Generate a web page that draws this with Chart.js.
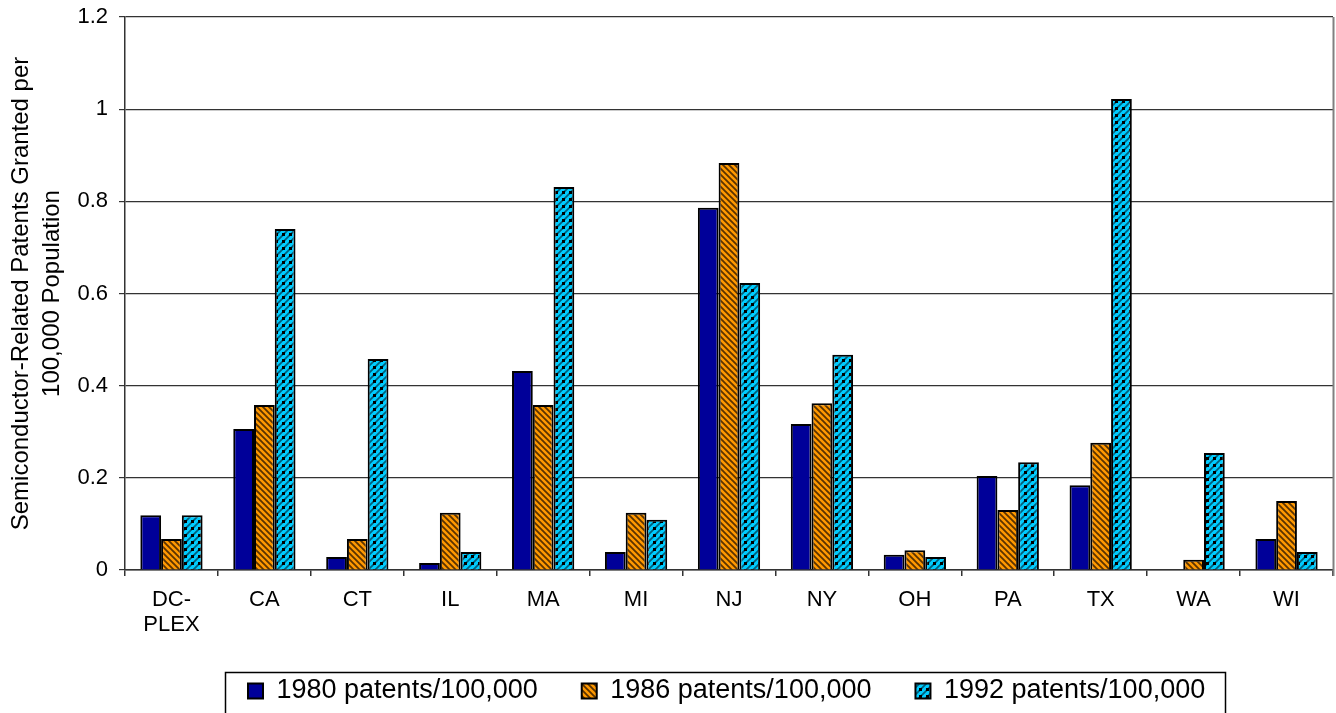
<!DOCTYPE html>
<html>
<head>
<meta charset="utf-8">
<script src="https://cdn.jsdelivr.net/npm/chart.js@4/dist/chart.umd.min.js"></script>
<style>
  html, body { margin: 0; padding: 0; background: #ffffff; }
  #wrap { width: 1336px; height: 713px; position: relative; overflow: hidden; }
</style>
</head>
<body>
<div id="wrap"><canvas id="c" width="1336" height="713"></canvas></div>
<script>
// Semiconductor-related patents granted per 100,000 population, by state
const categories = [['DC-', 'PLEX'], 'CA', 'CT', 'IL', 'MA', 'MI', 'NJ', 'NY', 'OH', 'PA', 'TX', 'WA', 'WI'];
const patents1980 = [0.119, 0.306, 0.028, 0.015, 0.432, 0.039, 0.786, 0.317, 0.033, 0.204, 0.184, 0.000, 0.067];
const patents1986 = [0.067, 0.358, 0.067, 0.124, 0.358, 0.124, 0.883, 0.362, 0.043, 0.130, 0.276, 0.022, 0.150];
const patents1992 = [0.119, 0.740, 0.458, 0.039, 0.831, 0.109, 0.623, 0.467, 0.028, 0.234, 1.022, 0.254, 0.039];
const seriesNames = ['1980 patents/100,000', '1986 patents/100,000', '1992 patents/100,000'];
const yTicks = [0, 0.2, 0.4, 0.6, 0.8, 1, 1.2];
const yTickLabels = ['0', '0.2', '0.4', '0.6', '0.8', '1', '1.2'];
const yTitle = ['Semiconductor-Related Patents Granted per', '100,000 Population'];

Chart.defaults.font.family = "'Liberation Sans', Arial, sans-serif";
Chart.defaults.color = '#000000';

// Diagonal hatch fills
function hatchDown(bg, ink, size, width) {
  const c = document.createElement('canvas');
  c.width = c.height = size;
  const g = c.getContext('2d');
  g.fillStyle = bg; g.fillRect(0, 0, size, size);
  g.strokeStyle = ink; g.lineWidth = width;
  g.beginPath();
  g.moveTo(-1, -1); g.lineTo(size + 1, size + 1);
  g.moveTo(-1, size - 1); g.lineTo(1, size + 1);
  g.moveTo(size - 1, -1); g.lineTo(size + 1, 1);
  g.stroke();
  return g.createPattern(c, 'repeat');
}
function hatchUpDashed(bg, ink, dot, size, width) {
  const c = document.createElement('canvas');
  c.width = c.height = size;
  const g = c.getContext('2d');
  g.fillStyle = bg; g.fillRect(0, 0, size, size);
  g.strokeStyle = ink; g.lineWidth = width;
  g.beginPath();
  g.moveTo(-1, size + 1); g.lineTo(size + 1, -1);
  g.moveTo(-1, 1); g.lineTo(1, -1);
  g.moveTo(size - 1, size + 1); g.lineTo(size + 1, size - 1);
  g.stroke();
  g.fillStyle = dot;
  g.fillRect(size / 2 - 1.5, size / 2 - 1.5, 3, 3);
  return g.createPattern(c, 'repeat');
}

const fill1980 = '#000099';
const fill1986 = hatchDown('#FF9900', 'rgba(50,25,0,0.8)', 6, 1.8);
const fill1992 = hatchUpDashed('#00CCFF', 'rgba(0,60,80,0.75)', '#000000', 7, 1.8);

// Frame line on the right side of the plot area
const plotFrame = {
  id: 'plotFrame',
  afterDraw(chart) {
    const { ctx, chartArea: a } = chart;
    ctx.save();
    ctx.strokeStyle = '#808080';
    ctx.lineWidth = 2;
    ctx.beginPath();
    ctx.moveTo(a.right + 0.5, a.top);
    ctx.lineTo(a.right + 0.5, a.bottom + 6);
    ctx.stroke();
    ctx.restore();
  }
};

// Legend placement and its surrounding box
const LEGEND_X = 248, LEGEND_MID = 691, LEGEND_TOP_LINE = 672;
const legendBox = {
  id: 'legendBox',
  afterLayout(chart) {
    const L = chart.legend;
    const pad = L.options.labels.padding;
    const w = L.lineWidths[0];
    const start = (L.left + pad + L.right - w) / 2;
    const dx = LEGEND_X - start;
    L.left += dx; L.right += dx;
    const ih = L._itemHeight || L.options.labels.font.size;
    const top = LEGEND_MID - pad - ih / 2;
    const h = L.bottom - L.top;
    L.top = top; L.bottom = top + h;
  },
  afterDraw(chart) {
    const L = chart.legend;
    const pad = L.options.labels.padding;
    const w = L.lineWidths[0];
    const start = (L.left + pad + L.right - w) / 2;
    const end = start + w - pad;
    const { ctx } = chart;
    ctx.save();
    ctx.strokeStyle = '#000000';
    ctx.lineWidth = 1.5;
    const x0 = Math.round(start - 23) + 0.5;
    const x1 = Math.round(end + 20) + 0.5;
    ctx.strokeRect(x0, LEGEND_TOP_LINE + 0.5, x1 - x0, 60);
    ctx.restore();
  }
};

const PLOT_BOTTOM = 570;

new Chart(document.getElementById('c'), {
  type: 'bar',
  data: {
    labels: categories,
    datasets: [
      { label: seriesNames[0], data: patents1980, backgroundColor: fill1980, borderColor: '#000000', borderWidth: 2, borderSkipped: 'bottom' },
      { label: seriesNames[1], data: patents1986, backgroundColor: fill1986, borderColor: '#000000', borderWidth: 2, borderSkipped: 'bottom' },
      { label: seriesNames[2], data: patents1992, backgroundColor: fill1992, borderColor: '#000000', borderWidth: 2, borderSkipped: 'bottom' }
    ]
  },
  options: {
    responsive: false,
    animation: false,
    devicePixelRatio: 1,
    categoryPercentage: 0.67,
    barPercentage: 1.0,
    layout: { padding: { left: 6, right: 3, top: 17, bottom: 0 } },
    plugins: {
      tooltip: { enabled: false },
      legend: {
        position: 'bottom',
        labels: {
          color: '#000000',
          font: { size: 27 },
          boxWidth: 15,
          boxHeight: 15,
          padding: 44
        }
      }
    },
    scales: {
      x: {
        grid: { display: true, drawOnChartArea: false, drawTicks: true, tickLength: 6, color: '#333333', lineWidth: 1.5, offset: true },
        border: { display: true, color: '#333333', width: 1.5 },
        ticks: { color: '#000000', font: { size: 22, lineHeight: 1.15 }, padding: 11, maxRotation: 0, autoSkip: false },
        afterFit(scale) {
          const lh = scale.chart.legend ? scale.chart.legend.height : 0;
          scale.height = Math.max(10, scale.chart.height - PLOT_BOTTOM - lh);
        }
      },
      y: {
        min: 0,
        max: 1.2,
        afterBuildTicks(scale) { scale.ticks = yTicks.map(v => ({ value: v })); },
        grid: { color: '#333333', lineWidth: 1.2, tickLength: 6, drawTicks: true },
        border: { display: true, color: '#333333', width: 1.5 },
        ticks: {
          color: '#000000',
          font: { size: 22 },
          padding: 11,
          callback(value) { const i = yTicks.indexOf(value); return i >= 0 ? yTickLabels[i] : ''; }
        },
        title: { display: true, text: yTitle, color: '#000000', font: { size: 24, lineHeight: 1.29 }, padding: { top: 0, bottom: 0 } },
        afterFit(scale) {
          scale.width = 119;
          scale.paddingTop = 0;
          scale.paddingBottom = 0;
        }
      }
    }
  },
  plugins: [plotFrame, legendBox]
});
</script>
</body>
</html>
